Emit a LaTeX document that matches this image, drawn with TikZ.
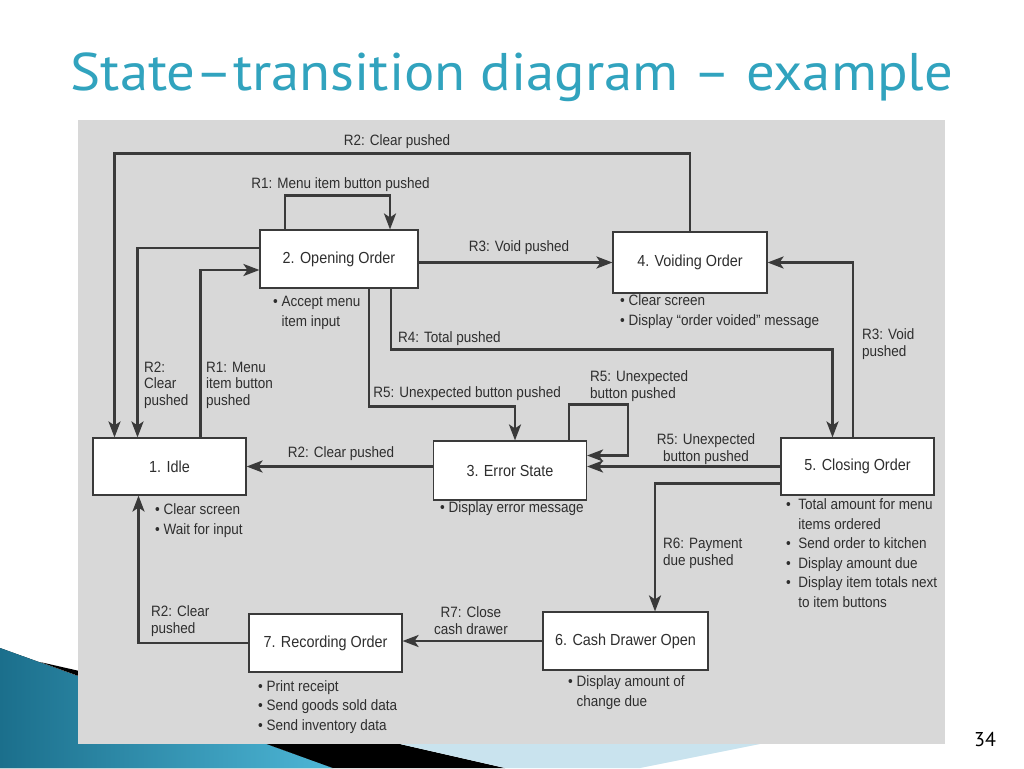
\documentclass[tikz,border=0pt]{standalone}
\usepackage{fontspec}
\setmainfont{Liberation Sans}
\newfontfamily\diagfont[FakeStretch=0.9]{Liberation Sans}
\newfontfamily\titlefont[FakeStretch=1.07]{PT Sans}
\newfontfamily\pagefont{PT Sans}
\usepackage{xcolor}
\usepackage{tikz}
\usetikzlibrary{arrows.meta}

\definecolor{titleteal}{HTML}{31A3BE}
\definecolor{scangray}{HTML}{D8D8D8}
\definecolor{inkgray}{HTML}{3A3A3A}
\definecolor{textgray}{HTML}{2E2E2E}
\definecolor{deepblue}{HTML}{1B6F8C}
\definecolor{skyblue}{HTML}{4DB6D6}
\definecolor{paleblue}{HTML}{C9E3EE}

\begin{document}
\begin{tikzpicture}[
  x=1pt, y=-1pt,
  font=\diagfont\fontsize{15}{16.5}\selectfont,
  >={Stealth[length=16pt, width=12pt, inset=4pt]},
  state/.style={draw=inkgray, line width=1.1pt, fill=white, minimum width=153pt, minimum height=58pt,
    inner sep=0pt, text=textgray, font=\diagfont\fontsize{16}{18}\selectfont},
  flow/.style={draw=inkgray, line width=2.6pt, ->},
  lbl/.style={inner sep=0pt, text=textgray, align=left},
  note/.style={inner sep=0pt, text=textgray, align=left, font=\diagfont\fontsize{15}{19.5}\selectfont}
]
  \useasboundingbox (0,0) rectangle (1024,768);

  % Slide decoration
  \fill[left color=deepblue, right color=skyblue] (0,648) -- (333,768) -- (0,768) -- cycle;
  \fill[black] (40,662) -- (505,768) -- (333,768) -- cycle;
  \fill[paleblue] (400,744) -- (760,744) -- (640,768) -- (505,768) -- cycle;
  \fill[scangray] (78,120) rectangle (945,744);

  % Title and page number
  \node[font=\titlefont\fontsize{53}{53}\selectfont, text=titleteal, anchor=base] (title) at (512,90)
    {State–transition diagram – example};
  \node[font=\pagefont\fontsize{20}{20}\selectfont, anchor=base] (pgnum) at (985,746) {34};

  % States
  \node[state, minimum height=57pt] (idle) at (169.5,466.5) {1. Idle};
  \node[state, minimum width=158pt] (open) at (339,259) {2. Opening Order};
  \node[state, minimum height=59pt] (err) at (510,470.5) {3. Error State};
  \node[state, minimum width=154pt, minimum height=61pt] (void) at (690,262.5) {4. Voiding Order};
  \node[state, minimum height=57pt] (close) at (857.5,466.5) {5. Closing Order};
  \node[state, minimum width=165pt] (cash) at (625.5,641) {6. Cash Drawer Open};
  \node[state] (rec) at (325.5,643) {7. Recording Order};

  % Actions (base = last line)
  \node[note, anchor=base west] (nOpen) at (273,326) {• Accept menu\\\phantom{• }item input};
  \node[note, anchor=base west] (nVoid) at (620,325) {• Clear screen\\• Display “order voided” message};
  \node[note, anchor=base west] (nIdle) at (155,534) {• Clear screen\\• Wait for input};
  \node[note, anchor=base west] (nErr) at (440,512) {• Display error message};
  \node[note, anchor=base west] (nClose) at (786,607)
    {•\ \ Total amount for menu\\\phantom{•\ \ }items ordered\\•\ \ Send order to kitchen\\•\ \ Display amount due\\
     •\ \ Display item totals next\\\phantom{•\ \ }to item buttons};
  \node[note, anchor=base west] (nCash) at (568,706) {• Display amount of\\\phantom{• }change due};
  \node[note, anchor=base west] (nRec) at (258,730) {• Print receipt\\• Send goods sold data\\• Send inventory data};

  % Transitions
  \draw[flow] (void.north) -- ++(0,-78) -| ([xshift=-55pt]idle.north);
  \draw[flow] ([xshift=-54pt]open.north) -- ++(0,-34) -| ([xshift=51pt]open.north);
  \draw[flow] ([yshift=11pt]open.west) -| ([xshift=-32pt]idle.north);
  \draw[flow] ([xshift=31pt]idle.north) |- ([yshift=-11pt]open.west);
  \draw[flow] (open.east |- void) -- (void.west);
  \draw[flow] ([xshift=52pt]open.south) -- ++(0,61) -| ([xshift=-25pt]close.north);
  \draw[flow] ([xshift=30pt]open.south) -- ++(0,118) -| ([xshift=5pt]err.north);
  \draw[flow] ([xshift=59pt]err.north) -- ++(0,-36) -- ++(59,0) |- ([yshift=15pt]err.east);
  \draw[flow] (err.west |- idle) -- (idle.east);
  \draw[flow] (close.west) -- (close.west -| err.east);
  \draw[flow] ([xshift=-4.5pt]close.north) |- (void.east);
  \draw[flow] ([yshift=-17pt]close.west) -| ([xshift=29.5pt]cash.north);
  \draw[flow] (cash.west) -- (cash.west -| rec.east);
  \draw[flow] (rec.west) -| ([xshift=-31pt]idle.south);

  % Transition labels (base = last line)
  \node[lbl, anchor=base] (lR2top) at (397,145) {R2: Clear pushed};
  \node[lbl, anchor=base] (lR1loop) at (340.5,188) {R1: Menu item button pushed};
  \node[lbl, anchor=base] (lR3) at (519,251) {R3: Void pushed};
  \node[lbl, anchor=base west] (lR4) at (398,342) {R4: Total pushed};
  \node[lbl, anchor=base east] (lR5a) at (561,397) {R5: Unexpected button pushed};
  \node[lbl, anchor=base west] (lR5loop) at (590,398) {R5: Unexpected\\button pushed};
  \node[lbl, anchor=base, align=center] (lR5b) at (706,461) {R5: Unexpected\\button pushed};
  \node[lbl, anchor=base west] (lR3b) at (862,356) {R3: Void\\pushed};
  \node[lbl, anchor=base west] (lR2a) at (144,405) {R2:\\Clear\\pushed};
  \node[lbl, anchor=base west] (lR1a) at (206,405) {R1: Menu\\item button\\pushed};
  \node[lbl, anchor=base] (lR2b) at (341,457) {R2: Clear pushed};
  \node[lbl, anchor=base west] (lR6) at (663,565) {R6: Payment\\due pushed};
  \node[lbl, anchor=base, align=center] (lR7) at (471,634) {R7: Close\\cash drawer};
  \node[lbl, anchor=base west] (lR2c) at (151,633) {R2: Clear\\pushed};
\end{tikzpicture}
\end{document}
